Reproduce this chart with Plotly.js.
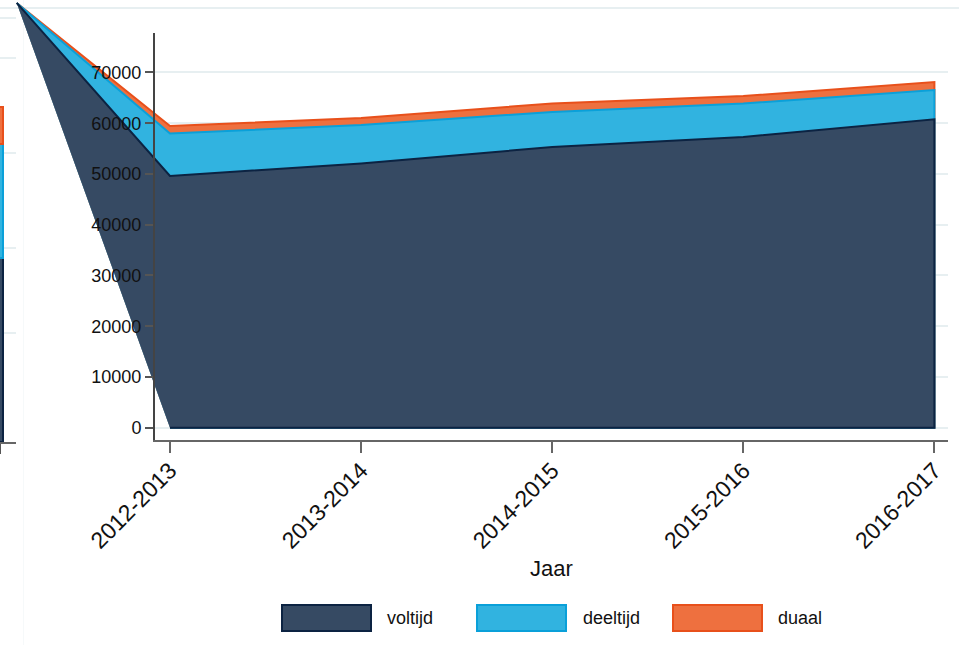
<!DOCTYPE html>
<html><head><meta charset="utf-8">
<script src="https://cdn.plot.ly/plotly-3.0.1.min.js"></script>
<style>html,body{margin:0;padding:0;background:#fff;} #chart{width:959px;height:645px;}</style>
</head><body><div id="chart"></div>
<script>
// ---- data ----
const years = ['2012-2013', '2013-2014', '2014-2015', '2015-2016', '2016-2017'];
const voltijd = [49600, 52060, 55310, 57280, 60770];
const deeltijd = [8370, 7590, 6900, 6600, 5770];
const duaal = [1480, 1380, 1670, 1480, 1580];
const seriesNames = ['voltijd', 'deeltijd', 'duaal'];
const yTickVals = [0, 10000, 20000, 30000, 40000, 50000, 60000, 70000];
// rendering artifact of the original: every area path starts at one stray point (up-left)
const strayX = -0.802;
const strayY = 83700;
// remains of a neighbouring panel at the left edge (stacked segment heights, grid values)
const stripSegments = [184, 114, 37];
const stripGrid = [109, 194, 289, 384, 424];

// ---- styles ----
const fills = ['#364a63', '#31b3e0', '#ee703f'];
const lines = ['#0c2342', '#0aa0d9', '#e8501b'];
const FONT = 'Liberation Sans, Arial, sans-serif';
const GRID = '#e7eff1';

// ---- geometry (pixels) ----
const W = 959, H = 645;
const X0 = 170, DX = 191.1;          // pixel of first category, pixels per category
const Y0 = 427.7, KY = 50.75 / 10000; // pixel of 0, pixels per unit
const plotL = 155, plotR = 948, plotT = 33, plotB = 440;
const xr = (a, b) => [(a - X0) / DX, (b - X0) / DX];
const yr = (top, bot) => [(Y0 - bot) / KY, (Y0 - top) / KY];
const px2paperX = p => p / W;
const px2paperY = p => 1 - p / H;

const idx = years.map((_, i) => i);
const cumDeel = voltijd.map((v, i) => v + deeltijd[i]);
const total = cumDeel.map((v, i) => v + duaal[i]);

function areaTrace(tops, k) {
  const rev = idx.slice().reverse();
  return {
    type: 'scatter', mode: 'lines', fill: 'toself',
    x: [strayX].concat(idx, rev),
    y: [strayY].concat(tops, rev.map(() => 0)),
    fillcolor: fills[k],
    line: {color: lines[k], width: 2},
    xaxis: 'x2', yaxis: 'y2', hoverinfo: 'skip', showlegend: false, name: seriesNames[k]
  };
}

const data = [
  {type: 'scatter', x: [], y: [], xaxis: 'x', yaxis: 'y', showlegend: false},
  areaTrace(total, 2),
  areaTrace(cumDeel, 1),
  areaTrace(voltijd, 0),
  {type: 'scatter', x: [], y: [], xaxis: 'x3', yaxis: 'y3', showlegend: false}
];
[0, 1, 2].forEach(k => data.push({
  type: 'bar', x: [0], y: [stripSegments[k]], width: 0.375,
  marker: {color: fills[k], line: {color: lines[k], width: 2}},
  xaxis: 'x4', yaxis: 'y4', showlegend: false, hoverinfo: 'skip'
}));

const mainXDomain = [px2paperX(plotL), px2paperX(plotR)];
const mainYDomain = [px2paperY(plotB), px2paperY(plotT)];
const hidden = {showline: false, zeroline: false, showticklabels: false, ticks: '', showgrid: false, fixedrange: true};

const annotations = [];
seriesNames.forEach((n, k) => {
  const cx = 326 + k * 195.5, cy = 617.5;
  annotations.push({
    xref: 'paper', yref: 'paper', x: px2paperX(cx), y: px2paperY(cy),
    xanchor: 'center', yanchor: 'middle', showarrow: false, text: '&nbsp;',
    width: 87, height: 24, bgcolor: fills[k], bordercolor: lines[k], borderwidth: 2, borderpad: 0
  });
  annotations.push({
    xref: 'paper', yref: 'paper', x: px2paperX(cx + 59), y: px2paperY(cy),
    xanchor: 'left', yanchor: 'middle', showarrow: false, text: n,
    font: {family: FONT, size: 18, color: '#111'}
  });
});

const layout = {
  width: W, height: H,
  margin: {l: 0, r: 0, t: 0, b: 0},
  paper_bgcolor: '#ffffff', plot_bgcolor: 'rgba(0,0,0,0)',
  showlegend: false, barmode: 'stack', bargap: 0,
  font: {family: FONT, size: 18, color: '#111'},
  xaxis: Object.assign({}, hidden, {domain: mainXDomain, range: xr(plotL, plotR), anchor: 'y'}),
  yaxis: Object.assign({}, hidden, {domain: mainYDomain, range: yr(plotT, plotB), anchor: 'x',
    showgrid: true, tickvals: yTickVals, gridcolor: GRID, gridwidth: 2}),
  xaxis2: Object.assign({}, hidden, {domain: [0, 1], range: xr(0, W), anchor: 'y2',
    showgrid: true, tickvals: [(23 - X0) / DX], gridcolor: '#f6f9fa', gridwidth: 1}),
  yaxis2: Object.assign({}, hidden, {domain: [0, 1], range: yr(0, H), anchor: 'x2',
    showgrid: true, tickvals: [(Y0 - 8) / KY], gridcolor: GRID, gridwidth: 2}),
  xaxis3: {domain: mainXDomain, range: xr(plotL, plotR), anchor: 'y3', fixedrange: true,
    tickvals: idx, ticktext: years, tickangle: -45, ticks: 'outside', ticklen: 11, tickwidth: 2,
    tickcolor: '#666', showline: true, linecolor: '#666', linewidth: 2, showgrid: false, zeroline: false,
    ticklabelstandoff: -5,
    tickfont: {family: FONT, size: 23, color: '#111'},
    title: {text: 'Jaar', standoff: 8, font: {family: FONT, size: 22, color: '#111'}}},
  yaxis3: {domain: mainYDomain, range: yr(plotT, plotB), anchor: 'x3', fixedrange: true,
    tickvals: yTickVals, tickformat: 'd', ticks: 'outside', ticklen: 8, tickwidth: 2,
    tickcolor: '#555', showline: true, linecolor: '#444', linewidth: 2, showgrid: false, zeroline: false,
    tickfont: {family: FONT, size: 18, color: '#111'}},
  xaxis4: Object.assign({}, hidden, {domain: [0, px2paperX(16)], range: [0, 1], anchor: 'y4',
    showline: true, linecolor: '#666', linewidth: 2, ticks: 'outside', tickvals: [0.03], ticklen: 10,
    tickwidth: 2, tickcolor: '#555'}),
  yaxis4: Object.assign({}, hidden, {domain: [px2paperY(442), 1], range: [0, 442], anchor: 'x4',
    showgrid: true, tickvals: stripGrid, gridcolor: GRID, gridwidth: 2}),
  annotations: annotations
};

Plotly.newPlot('chart', data, layout, {displayModeBar: false, staticPlot: true});
</script>
</body></html>
